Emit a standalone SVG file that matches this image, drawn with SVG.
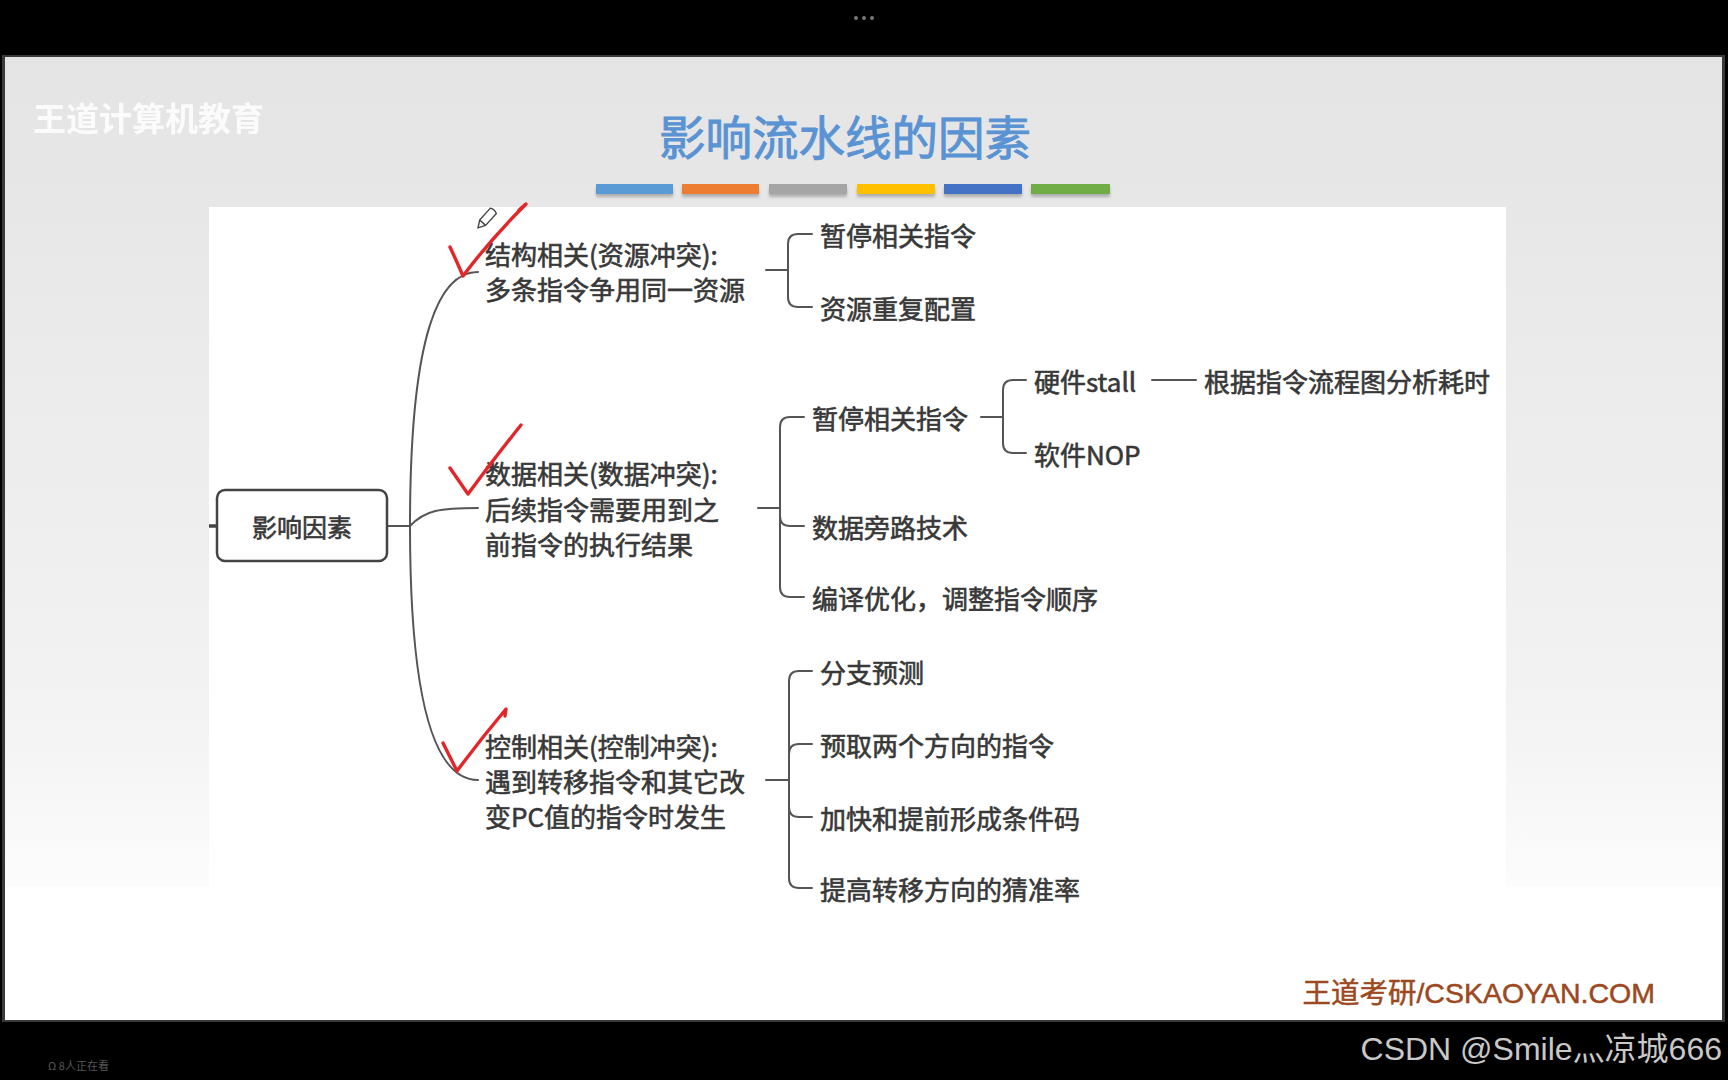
<svg xmlns="http://www.w3.org/2000/svg" width="1728" height="1080" viewBox="0 0 1728 1080">
  <defs>
    <linearGradient id="slideBg" x1="0" y1="0" x2="0" y2="1">
      <stop offset="0" stop-color="#e4e4e4"/>
      <stop offset="0.8" stop-color="#f3f3f3"/>
      <stop offset="1" stop-color="#fcfcfc"/>
    </linearGradient>
    <filter id="barShadow" x="-10%" y="-50%" width="120%" height="250%">
      <feGaussianBlur stdDeviation="1.5"/>
    </filter>
    <style>
      .t { font-family: "Noto Sans CJK SC", "Liberation Sans", sans-serif; fill: #383838; stroke: #383838; stroke-width: 0.6; font-size: 26px; dominant-baseline: central; }
      .conn { fill: none; stroke: #555; stroke-width: 2; stroke-linecap: round; }
      .check { fill: none; stroke: #e3262a; stroke-width: 3.4; stroke-linecap: round; stroke-linejoin: round; }
    </style>
  </defs>

  <!-- screen frame -->
  <rect x="0" y="0" width="1728" height="1080" fill="#000"/>
  <circle cx="856" cy="18" r="2" fill="#777"/>
  <circle cx="864" cy="18" r="2" fill="#777"/>
  <circle cx="872" cy="18" r="2" fill="#777"/>

  <!-- slide -->
  <rect x="2" y="55" width="1723" height="967" fill="#3a3a3a"/>
  <rect x="5" y="57" width="1717" height="963" fill="#fff"/>
  <rect x="5" y="57" width="1717" height="830" fill="url(#slideBg)"/>
  <rect x="209" y="207" width="1297" height="680" fill="#fff"/>

  <text x="33" y="117" style="font-family:'Noto Sans CJK SC',sans-serif;font-size:33px;font-weight:bold;fill:#ffffff;opacity:0.85;dominant-baseline:central">王道计算机教育</text>

  <!-- title -->
  <text x="845" y="134" text-anchor="middle" style="font-family:'Noto Sans CJK SC',sans-serif;font-size:46.5px;fill:#5a93d3;stroke:#5a93d3;stroke-width:0.9;dominant-baseline:central">影响流水线的因素</text>

  <!-- colour bars -->
  <g id="bars">
    <g filter="url(#barShadow)" fill="#888" opacity="0.6">
      <rect x="596" y="187" width="77" height="10"/>
      <rect x="682" y="187" width="77" height="10"/>
      <rect x="769" y="187" width="78" height="10"/>
      <rect x="857" y="187" width="78" height="10"/>
      <rect x="944" y="187" width="78" height="10"/>
      <rect x="1031" y="187" width="79" height="10"/>
    </g>
    <rect x="596" y="184" width="77" height="10" fill="#5b9bd5"/>
    <rect x="682" y="184" width="77" height="10" fill="#ed7d31"/>
    <rect x="769" y="184" width="78" height="10" fill="#a5a5a5"/>
    <rect x="857" y="184" width="78" height="10" fill="#ffc000"/>
    <rect x="944" y="184" width="78" height="10" fill="#4472c4"/>
    <rect x="1031" y="184" width="79" height="10" fill="#70ad47"/>
  </g>

  <!-- connectors -->
  <g id="connectors">
    <line x1="209" y1="526" x2="217" y2="526" stroke="#444" stroke-width="3.5"/>
    <path class="conn" d="M387,526 L410,526"/>
    <path class="conn" d="M410,526 C410,330 440,272 478,272"/>
    <path class="conn" d="M410,526 C425,510 440,508 478,508"/>
    <path class="conn" d="M410,526 C410,720 440,780 478,780"/>

    <!-- structure -->
    <path class="conn" d="M766,270 L788,270"/>
    <path class="conn" d="M788,270 L788,244 Q788,234 798,234 L812,234"/>
    <path class="conn" d="M788,270 L788,297 Q788,307 798,307 L812,307"/>

    <!-- data -->
    <path class="conn" d="M758,508 L780,508"/>
    <path class="conn" d="M780,508 L780,427 Q780,417 790,417 L804,417"/>
    <path class="conn" d="M780,508 L780,516 Q780,526 790,526 L804,526"/>
    <path class="conn" d="M780,508 L780,587 Q780,597 790,597 L804,597"/>
    <path class="conn" d="M981,417 L1003,417"/>
    <path class="conn" d="M1003,417 L1003,390 Q1003,380 1013,380 L1026,380"/>
    <path class="conn" d="M1003,417 L1003,443 Q1003,453 1013,453 L1026,453"/>
    <path class="conn" d="M1152,380 L1196,380"/>

    <!-- control -->
    <path class="conn" d="M766,780 L789,780"/>
    <path class="conn" d="M789,780 L789,681 Q789,671 799,671 L812,671"/>
    <path class="conn" d="M789,780 L789,754 Q789,744 799,744 L812,744"/>
    <path class="conn" d="M789,780 L789,807 Q789,817 799,817 L812,817"/>
    <path class="conn" d="M789,780 L789,878 Q789,888 799,888 L812,888"/>
  </g>

  <!-- nodes -->
  <g id="root">
    <rect x="217" y="490" width="170" height="71" rx="8" fill="#fff" stroke="#444" stroke-width="2.5"/>
    <text class="t" x="302" y="526" text-anchor="middle" style="font-size:25px">影响因素</text>
  </g>

  <g id="struct">
    <text class="t" x="485" y="253">结构相关(资源冲突):</text>
    <text class="t" x="485" y="288">多条指令争用同一资源</text>
  </g>
  <g id="struct-a"><text class="t" x="820" y="234">暂停相关指令</text></g>
  <g id="struct-b"><text class="t" x="820" y="307">资源重复配置</text></g>

  <g id="data">
    <text class="t" x="485" y="472">数据相关(数据冲突):</text>
    <text class="t" x="485" y="508">后续指令需要用到之</text>
    <text class="t" x="485" y="543">前指令的执行结果</text>
  </g>
  <g id="data-a"><text class="t" x="812" y="417">暂停相关指令</text></g>
  <g id="data-a1"><text class="t" x="1034" y="380">硬件stall</text></g>
  <g id="data-a1x"><text class="t" x="1204" y="380">根据指令流程图分析耗时</text></g>
  <g id="data-a2"><text class="t" x="1034" y="453">软件NOP</text></g>
  <g id="data-b"><text class="t" x="812" y="526">数据旁路技术</text></g>
  <g id="data-c"><text class="t" x="812" y="597">编译优化，调整指令顺序</text></g>

  <g id="ctrl">
    <text class="t" x="485" y="745">控制相关(控制冲突):</text>
    <text class="t" x="485" y="780">遇到转移指令和其它改</text>
    <text class="t" x="485" y="815">变PC值的指令时发生</text>
  </g>
  <g id="ctrl-a"><text class="t" x="820" y="671">分支预测</text></g>
  <g id="ctrl-b"><text class="t" x="820" y="744">预取两个方向的指令</text></g>
  <g id="ctrl-c"><text class="t" x="820" y="817">加快和提前形成条件码</text></g>
  <g id="ctrl-d"><text class="t" x="820" y="888">提高转移方向的猜准率</text></g>

  <!-- annotations -->
  <g id="pencil" transform="translate(486,219) rotate(-48)" fill="none" stroke="#444" stroke-width="1.4" stroke-linejoin="round">
    <path d="M-5,-4 L11,-4 Q13,0 11,4 L-5,4 L-12,0 Z"/>
    <path d="M-5,-4 L-5,4"/>
  </g>
  <path class="check" d="M450,247 Q457,262 463,276 Q490,240 525,205"/>
  <path class="check" d="M519,210 L526,204"/>
  <path class="check" d="M450,468 Q459,481 468,494 Q493,460 521,425"/>
  <path class="check" d="M443,743 Q450,757 457,771 Q480,740 506,709 L505,716"/>

  <!-- footer -->
  <text x="1655" y="993" text-anchor="end" style="font-family:'Liberation Sans','Noto Sans CJK SC',sans-serif;font-size:28.5px;fill:#9c4820;stroke:#9c4820;stroke-width:0.5;dominant-baseline:central">王道考研/CSKAOYAN.COM</text>
  <text x="1722" y="1049" text-anchor="end" style="font-family:'Liberation Sans','Noto Sans CJK SC',sans-serif;font-size:32px;fill:#c8c8c8;dominant-baseline:central">CSDN @Smile灬凉城666</text>
  <text x="48" y="1065" style="font-family:'Noto Sans CJK SC',sans-serif;font-size:11px;fill:#555;dominant-baseline:central">Ω 8人正在看</text>
</svg>
